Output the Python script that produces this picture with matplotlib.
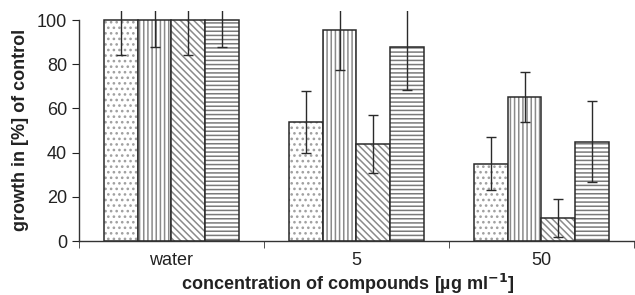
import numpy as np
import matplotlib.pyplot as plt

plt.rcParams['font.family'] = ['Liberation Sans', 'DejaVu Sans']
plt.rcParams['hatch.linewidth'] = 1.1

categories = ['water', '5', '50']
# four compounds
means = [
    [100, 54, 35],
    [100, 95.5, 65],
    [100, 44, 10.5],
    [100, 88, 45],
]
errors = [
    [16, 14, 12],
    [12, 18, 11.3],
    [16, 13, 8.7],
    [12, 19.5, 18.5],
]
hatches = ['...', '||||', '\\\\\\\\\\', '----']
hatch_cols = ['#a0a0a0', '#8a8a8a', '#8a8a8a', '#7a7a7a']

fig = plt.figure(figsize=(6.35, 2.95), dpi=100)
ax = fig.add_axes([0.1244, 0.183, 0.874, 0.779])

x = np.arange(len(categories))
w = 0.182
for i in range(4):
    pos = x + (i - 1.5) * w
    # hatch in grey, then outline in dark
    ax.bar(pos, means[i], w, color='white', edgecolor=hatch_cols[i],
           hatch=hatches[i], linewidth=0)
    ax.bar(pos, means[i], w, color='none', edgecolor='#2a2a2a', linewidth=1.1)
    ax.errorbar(pos, means[i], yerr=errors[i], fmt='none', ecolor='#2a2a2a',
                elinewidth=1.0, capsize=3.6, capthick=1.0)

ax.set_xlim(-0.5, 2.5)
ax.set_ylim(0, 104)
ax.set_yticks([0, 20, 40, 60, 80, 100])
ax.spines['top'].set_visible(False)
ax.spines['right'].set_visible(False)
ax.spines['left'].set_bounds(0, 100)
for s in ['left', 'bottom']:
    ax.spines[s].set_color('#333333')
    ax.spines[s].set_linewidth(1.0)

ax.set_xticks(x)
ax.set_xticklabels(categories)
ax.set_xticks([-0.5, 0.5, 1.5, 2.5], minor=True)
ax.tick_params(axis='x', which='major', length=0, pad=8, labelsize=13, colors='#222222')
ax.tick_params(axis='x', which='minor', length=5, direction='out', color='#333333')
ax.tick_params(axis='y', length=5, labelsize=13, colors='#222222')

fig.text(0.033, 0.558, 'growth in [%] of control', rotation=90, ha='center', va='center',
         fontsize=13, fontweight='bold', color='#222222')
fig.text(0.548, 0.017, 'concentration of compounds [µg ml$^{\\mathbf{-1}}$]', ha='center',
         va='baseline', fontsize=13, fontweight='bold', color='#222222')

plt.savefig('out.png', dpi=100)
